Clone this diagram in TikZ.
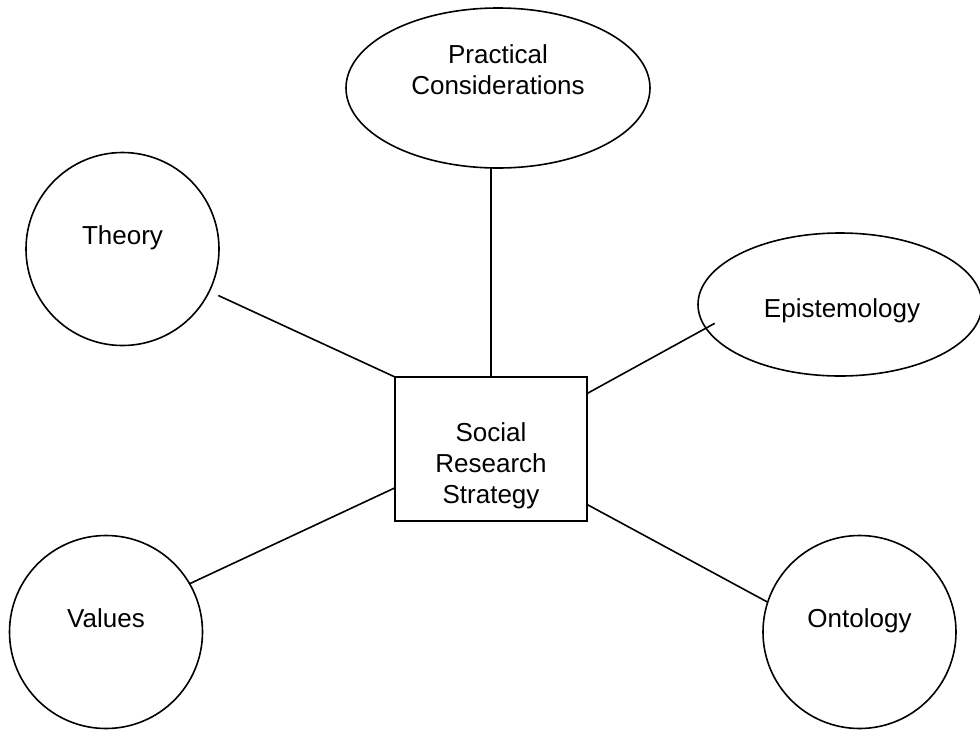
\documentclass[tikz,border=0pt]{standalone}
\usepackage{fontspec}
\setmainfont{Liberation Sans}
\usetikzlibrary{shapes.geometric}

\tikzset{
  outline/.style={draw=black, line width=1.6pt, inner sep=0pt, outer sep=0pt},
  roundnode/.style={outline, circle, minimum size=193pt},
  ovalnode/.style={outline, ellipse},
  boxnode/.style={outline, rectangle, minimum width=192pt, minimum height=144pt},
  caption/.style={inner sep=0pt, outer sep=0pt, align=center,
    font=\fontsize{26}{31}\selectfont},
  link/.style={line width=1.6pt}
}

\begin{document}
\begin{tikzpicture}[x=1pt, y=-1pt]
  \useasboundingbox (0,0) rectangle (980,729);

  % shapes
  \node[ovalnode, minimum width=304pt, minimum height=160pt] (prac) at (498,88) {};
  \node[ovalnode, minimum width=284pt, minimum height=143pt] (epist) at (840,304.5) {};
  \node[roundnode] (theory) at (122.5,249) {};
  \node[roundnode] (values) at (106,632) {};
  \node[roundnode] (onto) at (859.5,632) {};
  \node[boxnode] (srs) at (491,449) {};

  % labels
  \node[caption] (pracT) at (498,70) {Practical\\Considerations};
  \node[caption, anchor=base] (epistT) at (842,317) {Epistemology};
  \node[caption, anchor=base] (theoryT) at (122.5,244) {Theory};
  \node[caption, anchor=base] (valuesT) at (106,627) {Values};
  \node[caption, anchor=base] (ontoT) at (859.5,627) {Ontology};
  \node[caption] (srsT) at (491,466) {Social\\Research\\Strategy};

  % connectors
  \draw[link] (srs.north) -- (srs.north |- prac.south);
  \draw[link, shorten <=10pt] (theory.-26.7) -- (srs.north west);
  \draw[link, shorten >=-10pt] (srs.30.3) -- (epist.190.4);
  \draw[link] (values.30) -- (srs.202.4);
  \draw[link] (srs.-30.3) -- (onto.162);
\end{tikzpicture}
\end{document}
